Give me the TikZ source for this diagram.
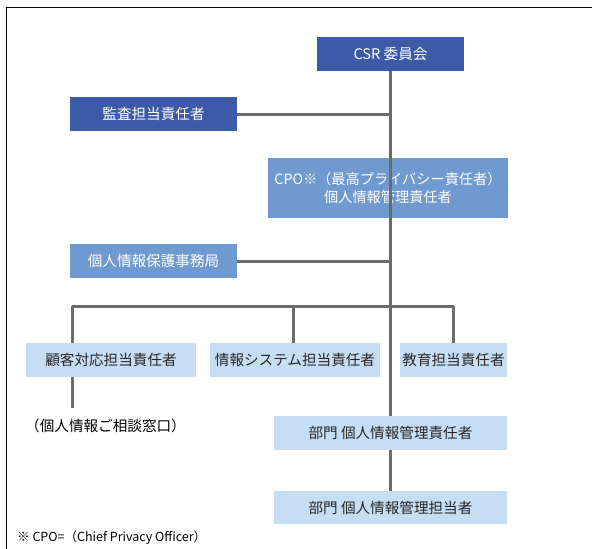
\documentclass[tikz,border=0pt]{standalone}
\usepackage{fontspec}
\setmainfont{Noto Sans CJK JP}
\definecolor{darkblue}{HTML}{3C5AA5}
\definecolor{midblue}{HTML}{7099D0}
\definecolor{lightblue}{HTML}{C6DEF4}
\definecolor{linegray}{HTML}{6B6B6B}
\begin{document}
\begin{tikzpicture}[x=1pt,y=-1pt, font=\fontsize{14.6}{18}\selectfont, line join=round,
	box/.style={inner sep=0pt, minimum height=34pt, align=center},
	darkbox/.style={box, fill=darkblue, text=white},
	midbox/.style={box, fill=midblue, text=white},
	lightbox/.style={box, fill=lightblue, text=black!85},
	link/.style={draw=linegray, line width=3pt}]
		\useasboundingbox (0,0) rectangle (592,549);
		\def\branchy{306}
		\draw[line width=1pt] (6,549)--(6,7)--(592,7);
		% boxes
		\node[darkbox, minimum width=147pt] (csr) at (390.5,54) {CSR 委員会};
		\node[darkbox, minimum width=167pt] (kansa) at (153.5,114) {監査担当責任者};
		\node[midbox, minimum width=240pt, minimum height=60pt, font=\fontsize{14.2}{18}\selectfont] (cpo) at (388,188) {CPO※（最高プライバシー責任者）\\個人情報管理責任者};
		\node[midbox, minimum width=167pt] (jimu) at (153.5,261) {個人情報保護事務局};
		\node[lightbox, minimum width=170pt] (kokyaku) at (111,360) {顧客対応担当責任者};
		\node[lightbox, minimum width=170pt] (joho) at (295,360) {情報システム担当責任者};
		\node[lightbox, minimum width=107pt] (kyoiku) at (453.5,360) {教育担当責任者};
		\node[lightbox, minimum width=233pt] (bumon1) at (390.5,433) {部門 個人情報管理責任者};
		\node[lightbox, minimum width=233pt, minimum height=33pt] (bumon2) at (390.5,507.5) {部門 個人情報管理担当者};
		\node[anchor=west, inner sep=0pt] (madoguchi) at (25,426) {（個人情報ご相談窓口）};
		\node[anchor=west, inner sep=0pt, font=\fontsize{12.5}{15}\selectfont] (note) at (17,538) {※ CPO=（Chief Privacy Officer）};
		% connectors
		\coordinate (top) at ([xshift=-0.5pt]csr.south);
		\coordinate (kokyakutop) at ([xshift=-39pt]kokyaku.north);
		\coordinate (johotop) at ([xshift=-2pt]joho.north);
		\coordinate (kyoikutop) at (kyoiku.north);
		\coordinate (kokyakubot) at ([xshift=-39pt]kokyaku.south);
		\coordinate (madotop) at (72,408);
		\path[link] (top)--(top |- bumon1.north);
		\path[link] (kansa.east)--(kansa.east -| top);
		\path[link] (jimu.east)--(jimu.east -| top);
		\path[link] (kokyakutop)--(kokyakutop |- 0,\branchy)-|(kyoikutop);
		\path[link] (johotop)--(johotop |- 0,\branchy);
		\path[link] (kokyakubot)--(madotop);
		\path[link] (bumon1.south -| top)--(bumon2.north -| top);
\end{tikzpicture}
\end{document}
